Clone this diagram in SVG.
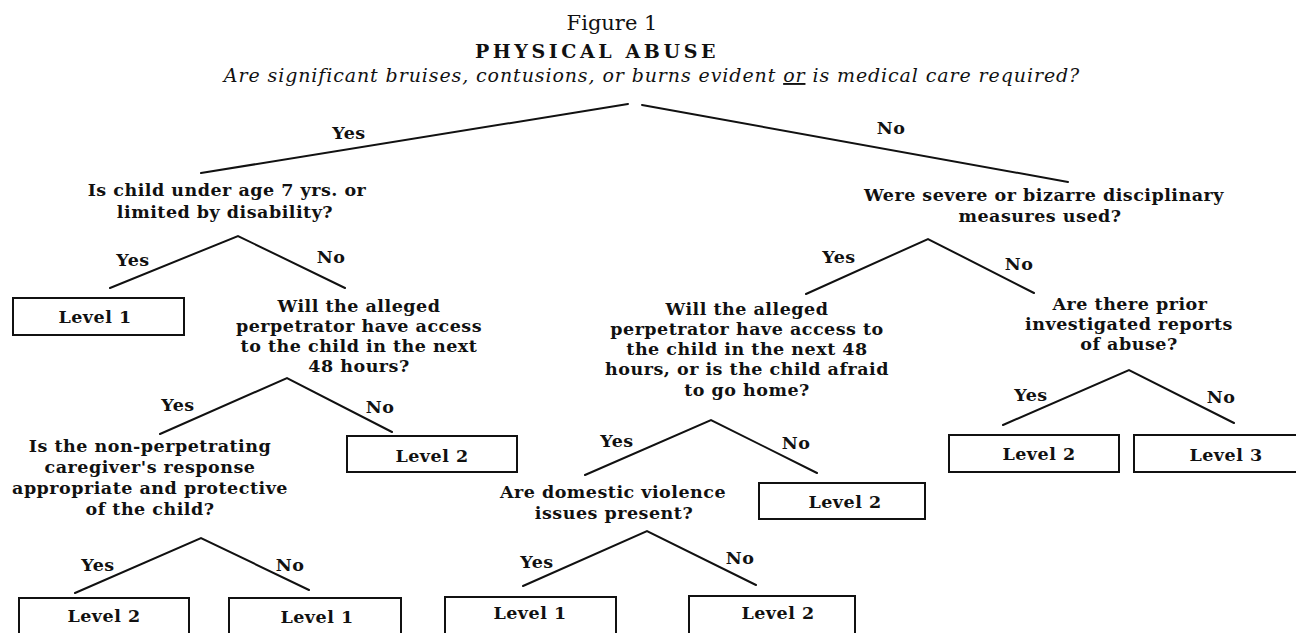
<svg xmlns="http://www.w3.org/2000/svg" width="1296" height="633" viewBox="0 0 1296 633">
<style>
  text { font-family: "DejaVu Serif", "Liberation Serif", serif; fill: #111; }
  .q { font-size: 17.5px; font-weight: bold; text-anchor: middle; letter-spacing: 0.5px; }
  .lab { font-size: 17.5px; font-weight: bold; text-anchor: middle; letter-spacing: 0.5px; }
  .lv { font-size: 17.5px; font-weight: bold; text-anchor: middle; letter-spacing: 0.5px; }
  .box { fill: #fff; stroke: #111; stroke-width: 2; }
  .edge { stroke: #111; stroke-width: 2; fill: none; stroke-linecap: round; }
</style>
<rect x="0" y="0" width="1296" height="633" fill="#fff"/>

<g id="title">
  <text x="612" y="30" style="font-size:21px;text-anchor:middle">Figure 1</text>
  <text x="597" y="58" style="font-size:19px;font-weight:bold;text-anchor:middle;letter-spacing:3.6px">PHYSICAL ABUSE</text>
</g>

<g id="root">
  <text x="652" y="82" style="font-size:19px;font-style:italic;text-anchor:middle;letter-spacing:0.9px">Are significant bruises, contusions, or burns evident <tspan text-decoration="underline">or</tspan> is medical care required?</text>
</g>

<g id="connectors">
  <polyline class="edge" points="201,173 628,104"/>
  <polyline class="edge" points="642,105 1068,182"/>
  <polyline class="edge" points="110,288 238,236 345,288"/>
  <polyline class="edge" points="160,434 287,378 392,432"/>
  <polyline class="edge" points="75,593 201,538 309,590"/>
  <polyline class="edge" points="806,294 928,239 1034,293"/>
  <polyline class="edge" points="585,475 711,420 817,473"/>
  <polyline class="edge" points="523,586 647,531 756,585"/>
  <polyline class="edge" points="1003,425 1129,370 1234,423"/>
  <g id="edge-labels">
    <text class="lab" x="349" y="139">Yes</text>
    <text class="lab" x="891" y="134">No</text>
    <text class="lab" x="133" y="266">Yes</text>
    <text class="lab" x="331" y="263">No</text>
    <text class="lab" x="178" y="411">Yes</text>
    <text class="lab" x="380" y="413">No</text>
    <text class="lab" x="98" y="571">Yes</text>
    <text class="lab" x="290" y="571">No</text>
    <text class="lab" x="839" y="263">Yes</text>
    <text class="lab" x="1019" y="270">No</text>
    <text class="lab" x="617" y="447">Yes</text>
    <text class="lab" x="796" y="449">No</text>
    <text class="lab" x="537" y="568">Yes</text>
    <text class="lab" x="740" y="564">No</text>
    <text class="lab" x="1031" y="401">Yes</text>
    <text class="lab" x="1221" y="403">No</text>
  </g>
</g>

<g id="q-age">
  <text class="q" x="227" y="196">Is child under age 7 yrs. or</text>
  <text class="q" x="225" y="218">limited by disability?</text>
</g>
<g id="q-access48">
  <text class="q" x="359" y="312">Will the alleged</text>
  <text class="q" x="359" y="332">perpetrator have access</text>
  <text class="q" x="359" y="352">to the child in the next</text>
  <text class="q" x="359" y="372">48 hours?</text>
</g>
<g id="q-caregiver">
  <text class="q" x="150" y="452">Is the non-perpetrating</text>
  <text class="q" x="150" y="473">caregiver's response</text>
  <text class="q" x="150" y="494">appropriate and protective</text>
  <text class="q" x="150" y="515">of the child?</text>
</g>
<g id="q-severe">
  <text class="q" x="1044" y="201">Were severe or bizarre disciplinary</text>
  <text class="q" x="1040" y="222">measures used?</text>
</g>
<g id="q-access-afraid">
  <text class="q" x="747" y="315">Will the alleged</text>
  <text class="q" x="747" y="335">perpetrator have access to</text>
  <text class="q" x="747" y="355">the child in the next 48</text>
  <text class="q" x="747" y="375">hours, or is the child afraid</text>
  <text class="q" x="747" y="396">to go home?</text>
</g>
<g id="q-domestic">
  <text class="q" x="613" y="498">Are domestic violence</text>
  <text class="q" x="614" y="519">issues present?</text>
</g>
<g id="q-prior">
  <text class="q" x="1130" y="310">Are there prior</text>
  <text class="q" x="1129" y="330">investigated reports</text>
  <text class="q" x="1129" y="350">of abuse?</text>
</g>

<g id="level1-a">
  <rect class="box" x="13" y="298" width="171" height="37"/>
  <text class="lv" x="95" y="323">Level 1</text>
</g>
<g id="level2-a">
  <rect class="box" x="347" y="436" width="170" height="36"/>
  <text class="lv" x="432" y="462">Level 2</text>
</g>
<g id="level2-b">
  <rect class="box" x="19" y="598" width="170" height="45"/>
  <text class="lv" x="104" y="622">Level 2</text>
</g>
<g id="level1-b">
  <rect class="box" x="229" y="598" width="172" height="45"/>
  <text class="lv" x="317" y="623">Level 1</text>
</g>
<g id="level1-c">
  <rect class="box" x="445" y="597" width="171" height="46"/>
  <text class="lv" x="530" y="619">Level 1</text>
</g>
<g id="level2-c">
  <rect class="box" x="689" y="596" width="166" height="47"/>
  <text class="lv" x="778" y="619">Level 2</text>
</g>
<g id="level2-d">
  <rect class="box" x="759" y="483" width="166" height="36"/>
  <text class="lv" x="845" y="508">Level 2</text>
</g>
<g id="level2-e">
  <rect class="box" x="949" y="435" width="170" height="37"/>
  <text class="lv" x="1039" y="460">Level 2</text>
</g>
<g id="level3">
  <rect class="box" x="1134" y="435" width="172" height="37"/>
  <text class="lv" x="1226" y="461">Level 3</text>
</g>
</svg>
